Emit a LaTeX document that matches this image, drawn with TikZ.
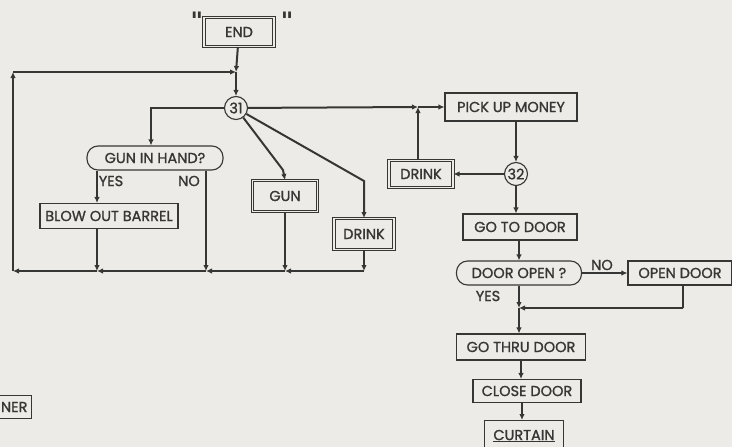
\documentclass[tikz,border=0pt]{standalone}
\usepackage{fontspec}
\setmainfont{Poppins}[UprightFeatures={FakeBold=1.2}]
\newfontfamily\quotefont{DejaVu Sans}
\usetikzlibrary{arrows.meta, positioning, calc}
\definecolor{ink}{HTML}{363634}
\definecolor{paper}{HTML}{ECEBE8}

\begin{document}
\begin{tikzpicture}[x=1pt, y=-1pt, thick,
    font=\fontsize{14.5}{15}\selectfont\color{ink},
    box/.style={draw=ink, line width=1.1pt, fill=paper, minimum height=26, inner sep=1pt},
    dbox/.style={box, double=paper, double distance=1.6pt, line width=1pt},
    ask/.style={box, rounded corners=11pt, minimum height=24},
    hub/.style={draw=ink, circle, line width=1.1pt, fill=paper, inner sep=0pt, minimum size=23},
    flow/.style={draw=ink, line width=2pt, -{Latex[length=6pt, width=5.5pt]}},
    wire/.style={draw=ink, line width=2pt},
    lab/.style={inner sep=0pt},
    quote/.style={inner sep=0pt, font=\quotefont\bfseries\fontsize{24}{24}\selectfont\color{ink}}]
      \fill[paper] (0,0) rectangle (732,447);
      \useasboundingbox (0,0) rectangle (732,447);
      % left part
      \node[dbox, minimum width=70, minimum height=29] (end) at (239,32) {END};
      \node[quote] (qleft) at (197,21) {"};
      \node[quote] (qright) at (287,21) {"};
      \node[hub] (c31) at (236,108) {31};
      \node[ask, minimum width=136] (gunq) at (155,158) {GUN IN HAND?};
      \node[lab] (yes1) at (111,181) {YES};
      \node[lab] (no1) at (189,181) {NO};
      \node[box, minimum width=138, minimum height=25] (blow) at (109,216) {BLOW OUT BARREL};
      \node[dbox, minimum width=65, minimum height=31] (gun) at (285,196) {GUN};
      \node[dbox, minimum width=60, minimum height=31] (drinkA) at (364,234) {DRINK};
      \node[box, anchor=east, minimum height=23, inner xsep=4pt] (ner) at (32,407) {NER};
      \coordinate (j0) at (236,72);
      \coordinate (tl) at (13,72);
      \coordinate (bl) at (13,271);
      \coordinate (b1) at (97,271);
      \coordinate (b2) at (206,271);
      \coordinate (b3) at (285,271);
      \coordinate (b4) at (364,271);
      % right part
      \node[box, minimum width=132, minimum height=28] (pick) at (511,107) {PICK UP MONEY};
      \node[hub] (c32) at (516,174) {32};
      \node[dbox, minimum width=64, minimum height=27] (drinkB) at (421,174) {DRINK};
      \node[box, minimum width=114] (goto) at (520,227) {GO TO DOOR};
      \node[ask, minimum width=125] (doorq) at (519,273) {DOOR OPEN ?};
      \node[lab] (no2) at (602,265) {NO};
      \node[lab] (yes2) at (488,296) {YES};
      \node[box, minimum width=104, minimum height=24] (opendoor) at (680,273) {OPEN DOOR};
      \node[box, minimum width=129] (thru) at (521,347) {GO THRU DOOR};
      \node[box, minimum width=108, minimum height=23] (close) at (527,391) {CLOSE DOOR};
      \node[box, minimum width=79, minimum height=31, anchor=north] (curtain) at (524,420) {\underline{CURTAIN}};
      \coordinate (j1) at (418,107);
      \coordinate (j2) at (519,308);
      \coordinate (od) at (683,308);

      \draw[flow] (end) -- (j0);
      \draw[flow] (j0) -- (c31);
      \draw[flow] (c31) -| (gunq.north -| 151,0);
      \draw[flow] (gunq.south -| b1) -- (blow.north -| b1);
      \draw[flow] (blow.south -| b1) -- (b1);
      \draw[flow] (gunq.south -| b2) -- (b2);
      \draw[flow] (c31) -- (283,170) -- (gun.north);
      \draw[flow] (gun) -- (b3);
      \draw[flow] (c31) -- (364,181) -- (drinkA.north);
      \draw[flow] (drinkA) -- (b4);
      \draw[flow] (b4) -- (b3);
      \draw[flow] (b3) -- (b2);
      \draw[flow] (b2) -- (b1);
      \draw[flow] (b1) -- (bl);
      \draw[flow] (bl) -- (tl);
      \draw[flow] (tl) -- (j0);
      \draw[flow] (c31) -- (j1);
      \draw[flow] (j1) -- (pick.west);
      \draw[flow] (pick.south -| c32) -- (c32);
      \draw[flow] (c32) -- (drinkB);
      \draw[flow] (drinkB.north -| j1) -- (j1);
      \draw[flow] (c32) -- (goto.north -| c32);
      \draw[flow] (goto.south -| j2) -- (doorq.north -| j2);
      \draw[flow] (doorq) -- (opendoor);
      \draw[wire] (opendoor.south -| od) -- (od);
      \draw[flow] (od) -- (j2);
      \draw[flow] (doorq.south -| j2) -- (j2);
      \draw[flow] (j2) -- (thru.north -| j2);
      \draw[flow] (thru.south -| 521,0) -- (close.north -| 521,0);
      \draw[flow] (close.south -| 522,0) -- (curtain.north -| 522,0);
    \end{tikzpicture}
\end{document}
